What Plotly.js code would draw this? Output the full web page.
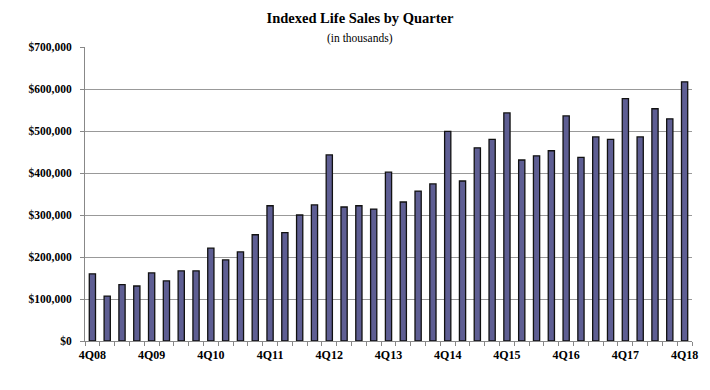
<!DOCTYPE html>
<html>
<head>
<meta charset="utf-8">
<script src="https://cdn.plot.ly/plotly-3.0.1.min.js"></script>
<style>html,body{margin:0;padding:0;background:#fff;}#chart{width:710px;height:390px;}</style>
</head>
<body>
<div id="chart"></div>
<script>
const quarters = ["4Q08","1Q09","2Q09","3Q09","4Q09","1Q10","2Q10","3Q10","4Q10","1Q11","2Q11","3Q11","4Q11","1Q12","2Q12","3Q12","4Q12","1Q13","2Q13","3Q13","4Q13","1Q14","2Q14","3Q14","4Q14","1Q15","2Q15","3Q15","4Q15","1Q16","2Q16","3Q16","4Q16","1Q17","2Q17","3Q17","4Q17","1Q18","2Q18","3Q18","4Q18"];
const sales = [160000,107000,134000,131000,162000,143000,167000,167000,221000,193000,212000,253000,322000,258000,300000,324000,443000,319000,322000,314000,402000,331000,357000,374000,499000,381000,460000,480000,543000,431000,441000,453000,536000,437000,486000,480000,577000,486000,553000,529000,617000];
const tickLabels = ["4Q08","4Q09","4Q10","4Q11","4Q12","4Q13","4Q14","4Q15","4Q16","4Q17","4Q18"];

const idx = quarters.map((q,i)=>i);
const tickIdx = tickLabels.map(t=>quarters.indexOf(t));
const serif = "Liberation Serif, Times New Roman, serif";

const trace = {
  type: "bar",
  x: idx,
  y: sales,
  hovertext: quarters,
  hoverinfo: "text+y",
  marker: {color: "#5e5e93", line: {color: "#111", width: 1.3}},
  width: 0.42
};

const layout = {
  width: 710, height: 390,
  margin: {l: 85, r: 18, t: 47, b: 49},
  paper_bgcolor: "#fff", plot_bgcolor: "#fff",
  showlegend: false,
  title: {
    text: "Indexed Life Sales by Quarter",
    font: {family: serif, size: 14.5, color: "#000", weight: "bold"},
    x: 0.507, xref: "container", xanchor: "center",
    y: 1 - 18/390, yref: "container", yanchor: "middle"
  },
  annotations: [{
    text: "(in thousands)",
    xref: "paper", yref: "paper",
    x: (360-85)/607, y: 1 + (47-38)/294,
    xanchor: "center", yanchor: "middle",
    showarrow: false,
    font: {family: serif, size: 11.5, color: "#000"}
  }],
  xaxis: {
    type: "linear",
    range: [-0.5, quarters.length - 0.5],
    tickvals: tickIdx,
    ticktext: tickLabels,
    ticks: "",
    ticklabelstandoff: 3,
    showgrid: false,
    zeroline: false,
    showline: true, linecolor: "#888", linewidth: 1,
    tickfont: {family: serif, size: 12, color: "#000", weight: "bold"},
    minor: {tick0: -0.5, dtick: 1, ticks: "outside", ticklen: 4, tickcolor: "#888", tickwidth: 1, showgrid: false}
  },
  yaxis: {
    range: [0, 700000],
    dtick: 100000,
    tickformat: "$,",
    ticks: "outside", ticklen: 4, tickcolor: "#888",
    ticklabelstandoff: 6,
    showgrid: true, gridcolor: "#999", gridwidth: 1,
    zeroline: false,
    showline: true, linecolor: "#888", linewidth: 1,
    tickfont: {family: serif, size: 11.5, color: "#000", weight: "bold"}
  }
};

Plotly.newPlot("chart", [trace], layout, {displayModeBar: false, staticPlot: true});
</script>
</body>
</html>
